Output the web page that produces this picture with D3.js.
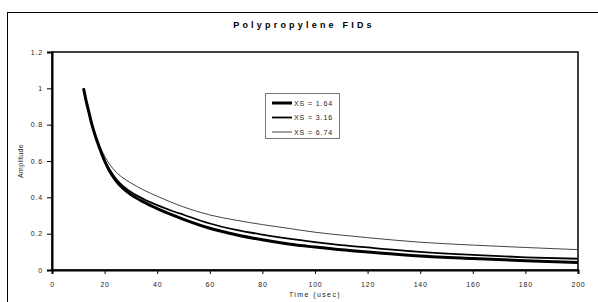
<!DOCTYPE html>
<html lang="en">
<head>
    <meta charset="UTF-8">
    <title>Polypropylene FIDs</title>
    <script src="https://d3js.org/d3.v7.min.js"></script>
    <style>
        body {
            margin: 0;
            background: #fff;
            font-family: "Liberation Sans", Arial, sans-serif;
        }
        svg {
            display: block;
        }
        .tick text {
            font-size: 7px;
            letter-spacing: 0.8px;
            fill: #222;
        }
    </style>
</head>
<body>
    <div id="container"></div>
    <script>
        // time points (usec)
        const times = [12, 13, 14, 15, 16, 17, 18, 20, 22, 24, 26, 28, 30, 35, 40, 45, 50, 60, 70, 80, 90, 100, 110, 120, 140, 160, 180, 200];

        // amplitude for each XS value
        const xs164 = [1.0, 0.93, 0.87, 0.81, 0.76, 0.715, 0.675, 0.60, 0.542, 0.498, 0.464, 0.437, 0.415, 0.373, 0.338, 0.307, 0.279, 0.23, 0.194, 0.166, 0.143, 0.126, 0.111, 0.099, 0.077, 0.063, 0.051, 0.041];
        const xs316 = [1.0, 0.93, 0.87, 0.81, 0.76, 0.717, 0.678, 0.605, 0.55, 0.508, 0.476, 0.45, 0.429, 0.389, 0.357, 0.329, 0.304, 0.256, 0.221, 0.195, 0.173, 0.154, 0.137, 0.124, 0.1, 0.083, 0.07, 0.062];
        const xs674 = [1.0, 0.93, 0.872, 0.815, 0.768, 0.725, 0.688, 0.627, 0.58, 0.545, 0.518, 0.497, 0.479, 0.439, 0.406, 0.375, 0.347, 0.303, 0.274, 0.25, 0.229, 0.208, 0.192, 0.178, 0.153, 0.137, 0.124, 0.112];

        const seriesNames = ['XS = 1.64', 'XS = 3.16', 'XS = 6.74'];
        const seriesData = [xs164, xs316, xs674];

        const xTicks = [0, 20, 40, 60, 80, 100, 120, 140, 160, 180, 200];
        const yTicks = [0, 0.2, 0.4, 0.6, 0.8, 1, 1.2];

        const width = 598;
        const height = 302;
        const plot = {left: 52, top: 52, right: 578, bottom: 270};

        const lineWidths = [3, 1.8, 1];
        const lineColors = ['#000', '#000', '#444'];

        const svg = d3.select('#container').append('svg')
            .attr('width', width)
            .attr('height', height);

        // outer chart frame (runs off the picture on the right and bottom)
        svg.append('rect')
            .attr('x', 7.5)
            .attr('y', 12.5)
            .attr('width', 620)
            .attr('height', 320)
            .attr('fill', 'none')
            .attr('stroke', '#000')
            .attr('stroke-width', 1);

        const x = d3.scaleLinear()
            .domain([0, 200])
            .range([plot.left, plot.right]);

        const y = d3.scaleLinear()
            .domain([0, 1.2])
            .range([plot.bottom, plot.top]);

        // plot area border
        svg.append('rect')
            .attr('x', plot.left)
            .attr('y', plot.top)
            .attr('width', plot.right - plot.left)
            .attr('height', plot.bottom - plot.top)
            .attr('fill', 'none')
            .attr('stroke', '#000')
            .attr('stroke-width', 1.5);

        // axes
        const xAxis = svg.append('g')
            .attr('transform', 'translate(0,' + plot.bottom + ')')
            .call(d3.axisBottom(x).tickValues(xTicks).tickSize(4).tickPadding(8).tickFormat(d3.format('d')));

        const yAxis = svg.append('g')
            .attr('transform', 'translate(' + plot.left + ',0)')
            .call(d3.axisLeft(y).tickValues(yTicks).tickSize(5).tickPadding(4).tickFormat(d => d));

        [xAxis, yAxis].forEach(function(g) {
            g.select('.domain').attr('stroke', '#000').attr('stroke-width', 2);
            g.selectAll('.tick line').attr('stroke', '#000');
            g.selectAll('.tick text').attr('font-family', '"Liberation Sans", Arial, sans-serif');
        });

        // lines
        const line = d3.line()
            .x((d, i) => x(times[i]))
            .y(d => y(d))
            .curve(d3.curveMonotoneX);

        // draw thin first so the thick one sits on top
        [2, 1, 0].forEach(function(k) {
            svg.append('path')
                .datum(seriesData[k])
                .attr('d', line)
                .attr('fill', 'none')
                .attr('stroke', lineColors[k])
                .attr('stroke-width', lineWidths[k]);
        });

        // title
        svg.append('text')
            .attr('x', 304)
            .attr('y', 28)
            .attr('text-anchor', 'middle')
            .attr('font-size', 9)
            .attr('font-weight', 'bold')
            .attr('letter-spacing', 3.2)
            .text('Polypropylene FIDs');

        // axis titles
        svg.append('text')
            .attr('x', (plot.left + plot.right) / 2)
            .attr('y', 297)
            .attr('text-anchor', 'middle')
            .attr('font-size', 7)
            .attr('letter-spacing', 1.4)
            .attr('fill', '#222')
            .text('Time (usec)');

        svg.append('text')
            .attr('transform', 'translate(23,' + (plot.top + plot.bottom) / 2 + ') rotate(-90)')
            .attr('text-anchor', 'middle')
            .attr('font-size', 7)
            .attr('letter-spacing', 0.3)
            .attr('fill', '#222')
            .text('Amplitude');

        // legend
        const legend = svg.append('g').attr('transform', 'translate(265,93)');
        legend.append('rect')
            .attr('x', 0.5)
            .attr('y', 0.5)
            .attr('width', 74)
            .attr('height', 45)
            .attr('fill', '#fff')
            .attr('stroke', '#777')
            .attr('stroke-width', 1);

        seriesNames.forEach(function(name, i) {
            const ly = 10 + i * 14.5;
            legend.append('line')
                .attr('x1', 7)
                .attr('x2', 27)
                .attr('y1', ly)
                .attr('y2', ly)
                .attr('stroke', lineColors[i])
                .attr('stroke-width', lineWidths[i]);
            legend.append('text')
                .attr('x', 29)
                .attr('y', ly + 2.5)
                .attr('font-size', 7)
                .attr('letter-spacing', 0.9)
                .attr('fill', '#222')
                .text(name);
        });
    </script>
</body>
</html>
